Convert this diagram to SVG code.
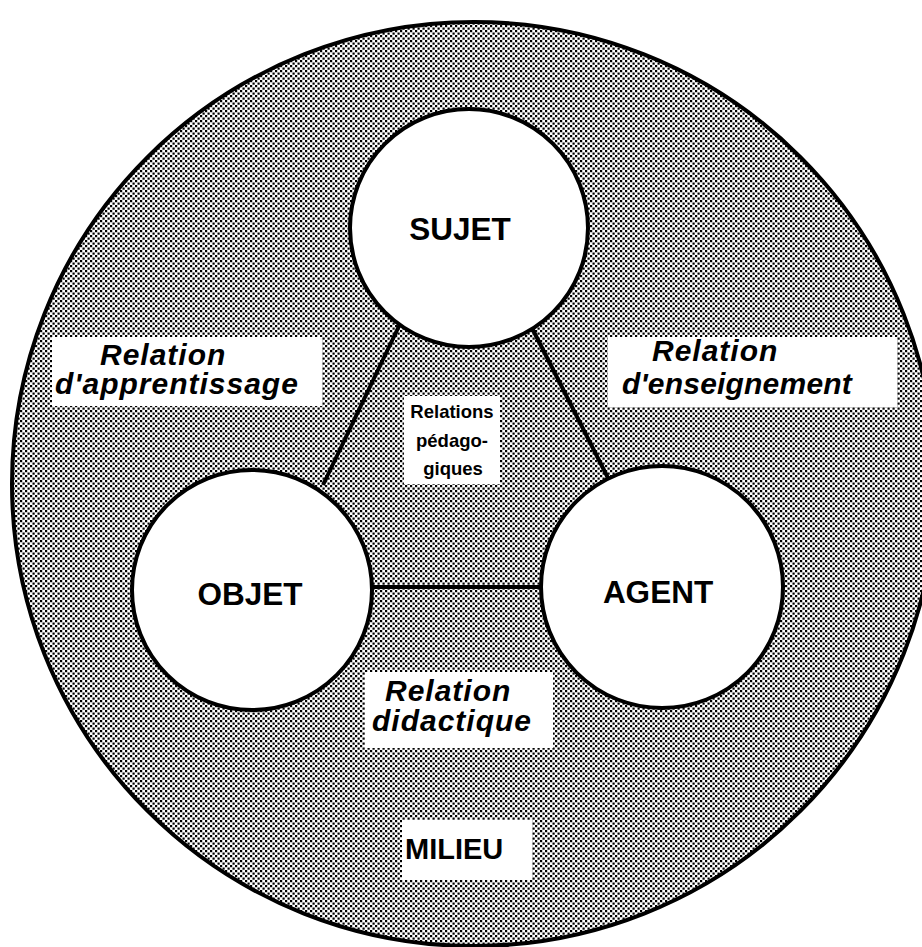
<svg xmlns="http://www.w3.org/2000/svg" width="922" height="947" viewBox="0 0 922 947">
  <defs>
    <!-- halftone screen used for the surrounding milieu -->
    <pattern id="screen" x="0" y="0" width="5" height="5" patternUnits="userSpaceOnUse">
      <rect x="0" y="0" width="2.2" height="2.2" fill="#000"/>
      <rect x="2.5" y="2.5" width="2.2" height="2.2" fill="#000"/>
    </pattern>
  </defs>
  <style>
    .edge { stroke: #000; stroke-width: 4; fill: none; }
    .node { fill: #fff; stroke: #000; stroke-width: 4; }
    .box { fill: #fff; }
    .lbl { font-family: "Liberation Sans", Arial, sans-serif; font-weight: bold; fill: #000; }
    .node-lbl { font-size: 31.5px; text-anchor: middle; }
    .rel { font-size: 30px; font-style: italic; letter-spacing: 1px; }
    .ped { font-size: 18.5px; text-anchor: middle; }
  </style>

  <rect width="922" height="947" fill="#fff"/>

  <!-- milieu -->
  <g id="milieu">
    <circle cx="474" cy="484" r="462" fill="url(#screen)" stroke="#000" stroke-width="4"/>
    <rect class="box" x="402" y="820" width="130" height="60"/>
    <text class="lbl" x="405" y="859" font-size="29">MILIEU</text>
  </g>

  <!-- relation labels -->
  <g id="relation-apprentissage">
    <rect class="box" x="52" y="337" width="270" height="69"/>
    <text class="lbl rel" x="100" y="365">Relation</text>
    <text class="lbl rel" x="55" y="394">d'apprentissage</text>
  </g>
  <g id="relation-enseignement">
    <rect class="box" x="608" y="337" width="289" height="70"/>
    <text class="lbl rel" x="652" y="361">Relation</text>
    <text class="lbl rel" x="622" y="394" style="letter-spacing:0.2px">d'enseignement</text>
  </g>
  <g id="relation-didactique">
    <rect class="box" x="365" y="672" width="188" height="76"/>
    <text class="lbl rel" x="385" y="701">Relation</text>
    <text class="lbl rel" x="372" y="731">didactique</text>
  </g>
  <g id="relations-pedagogiques">
    <rect class="box" x="404" y="396" width="96" height="88"/>
    <text class="lbl ped" x="452" y="418">Relations</text>
    <text class="lbl ped" x="452" y="447">pédago-</text>
    <text class="lbl ped" x="453" y="475">giques</text>
  </g>

  <!-- connectors -->
  <g id="connectors">
    <line class="edge" x1="400" y1="324" x2="323" y2="485"/>
    <line class="edge" x1="532" y1="328" x2="608" y2="478"/>
    <line class="edge" x1="372" y1="587" x2="542" y2="587"/>
  </g>

  <!-- nodes -->
  <g id="sujet">
    <circle class="node" cx="469" cy="228" r="119"/>
    <text class="lbl node-lbl" x="460" y="240">SUJET</text>
  </g>
  <g id="objet">
    <circle class="node" cx="252" cy="590" r="120"/>
    <text class="lbl node-lbl" x="250" y="605">OBJET</text>
  </g>
  <g id="agent">
    <circle class="node" cx="662" cy="587" r="121"/>
    <text class="lbl node-lbl" x="658" y="603">AGENT</text>
  </g>
</svg>
